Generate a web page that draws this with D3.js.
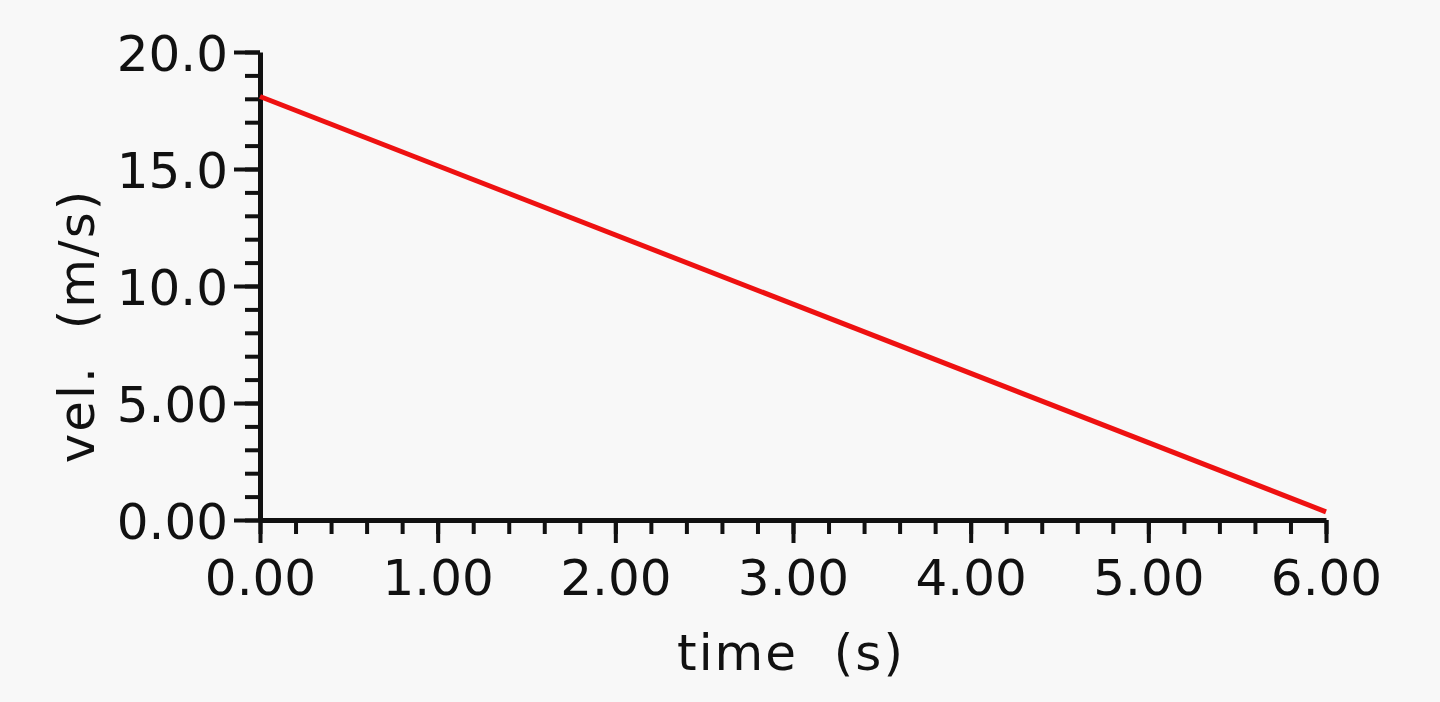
<!DOCTYPE html>
<html>
<head>
<meta charset="utf-8">
<script src="https://cdn.jsdelivr.net/npm/d3@7"></script>
<style>
  html, body { margin: 0; padding: 0; background: #f8f8f8; }
  svg { display: block; }
  .axis text { font-family: "DejaVu Sans", sans-serif; font-size: 50px; fill: #111; }
  .axis path, .axis line { stroke: #111; }
  .label { font-family: "DejaVu Sans", sans-serif; font-size: 50px; fill: #111; letter-spacing: 2px; }
</style>
</head>
<body>
<div id="chart"></div>
<script>
// ===== data =====
var timeValues = [0, 6];          // s
var velValues  = [18.1, 0.35];    // m/s

var xTicks      = [0, 1, 2, 3, 4, 5, 6];
var xTickLabels = ["0.00", "1.00", "2.00", "3.00", "4.00", "5.00", "6.00"];
var xMinor      = d3.range(0, 6.0001, 0.2);

var yTicks      = [0, 5, 10, 15, 20];
var yTickLabels = ["0.00", "5.00", "10.0", "15.0", "20.0"];
var yMinor      = d3.range(0, 21, 1);

var xTitle = "time  (s)";
var yTitle = "vel.  (m/s)";

function draw()
{
  var w = 1440;
  var h = 702;
  var margin = {left: 260, right: 114, top: 52, bottom: 182};

  var svg = d3.select("#chart")
              .append("svg")
              .attr("width", w)
              .attr("height", h);

  var x = d3.scaleLinear()
            .domain([0, 6])
            .range([margin.left, w - margin.right]);

  var y = d3.scaleLinear()
            .domain([0, 20])
            .range([h - margin.bottom, margin.top]);

  // minor ticks first (no labels)
  svg.append("g")
     .attr("class", "axis")
     .attr("transform", "translate(0," + y(0) + ")")
     .call(d3.axisBottom(x).tickValues(xMinor).tickSize(14).tickFormat(""))
     .call(function(g) { g.select(".domain").remove(); })
     .selectAll("line").attr("stroke-width", 4);

  svg.append("g")
     .attr("class", "axis")
     .attr("transform", "translate(" + x(0) + ",0)")
     .call(d3.axisLeft(y).tickValues(yMinor).tickSize(15).tickFormat(""))
     .call(function(g) { g.select(".domain").remove(); })
     .selectAll("line").attr("stroke-width", 4);

  // major ticks with labels
  var xAxis = svg.append("g")
     .attr("class", "axis")
     .attr("transform", "translate(0," + y(0) + ")")
     .call(d3.axisBottom(x)
             .tickValues(xTicks)
             .tickSize(23)
             .tickSizeOuter(0)
             .tickPadding(16)
             .tickFormat(function(d, i) { return xTickLabels[i]; }));
  xAxis.select(".domain").attr("stroke-width", 5);
  xAxis.selectAll("line").attr("stroke-width", 4);

  var yAxis = svg.append("g")
     .attr("class", "axis")
     .attr("transform", "translate(" + x(0) + ",0)")
     .call(d3.axisLeft(y)
             .tickValues(yTicks)
             .tickSize(26)
             .tickSizeOuter(0)
             .tickPadding(6)
             .tickFormat(function(d, i) { return yTickLabels[i]; }));
  yAxis.select(".domain").attr("stroke-width", 5);
  yAxis.selectAll("line").attr("stroke-width", 4);
  yAxis.selectAll("text").attr("dy", "0.36em");

  // the velocity line
  var line = d3.line()
               .x(function(d, i) { return x(timeValues[i]); })
               .y(function(d) { return y(d); });

  svg.append("path")
     .datum(velValues)
     .attr("d", line)
     .attr("fill", "none")
     .attr("stroke", "#ee1111")
     .attr("stroke-width", 5);

  // axis titles
  svg.append("text")
     .attr("class", "label")
     .attr("x", (x(0) + x(6)) / 2 - 2)
     .attr("y", 670)
     .attr("text-anchor", "middle")
     .style("white-space", "pre")
     .text(xTitle);

  svg.append("text")
     .attr("class", "label")
     .attr("transform", "translate(94," + 326 + ") rotate(-90)")
     .attr("text-anchor", "middle")
     .style("white-space", "pre")
     .text(yTitle);
}

window.onload = draw;
</script>
</body>
</html>
